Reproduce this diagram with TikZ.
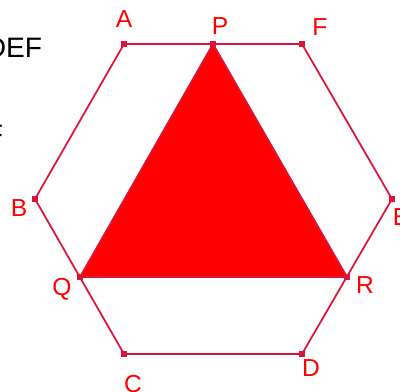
\documentclass[tikz,border=0pt]{standalone}
\usepackage{fontspec}
\setmainfont{Liberation Sans}
\definecolor{hexline}{RGB}{220,20,60}
\definecolor{ptred}{RGB}{255,0,0}
\begin{document}
\begin{tikzpicture}[x=0.02cm, y=-0.02cm, line width=1pt,
  lbl/.style={text=ptred, font=\fontsize{14}{17}\selectfont, inner sep=0pt},
  big/.style={text=black, font=\fontsize{16}{19}\selectfont, inner sep=0pt}]
\useasboundingbox (0,0) rectangle (400,392);

% Hexagon vertices
\coordinate (A) at (124,44);
\coordinate (F) at (302,44);
\coordinate (E) at (392,199);
\coordinate (D) at (302,354);
\coordinate (C) at (124,354);
\coordinate (B) at (35,199);

% Triangle vertices
\coordinate (P) at (213,44);
\coordinate (Q) at (80,277);
\coordinate (R) at (347,277);

% Triangle
\filldraw[fill=ptred, draw=hexline] (P) -- (Q) -- (R) -- cycle;

% Hexagon
\draw[hexline] (A) -- (F) -- (E) -- (D) -- (C) -- (B) -- cycle;

% Points
\foreach \pt in {A,P,F,E,D,C,B,Q,R}
  \fill[hexline] (\pt) +(-3,-3) rectangle +(3,3);

% Labels
\node[lbl] (lA) at (124,19) {A};
\node[lbl] (lP) at (220,26) {P};
\node[lbl] (lF) at (320,27) {F};
\node[lbl] (lE) at (401,217) {E};
\node[lbl] (lD) at (311,368) {D};
\node[lbl] (lC) at (133,384) {C};
\node[lbl] (lB) at (19,208) {B};
\node[lbl] (lQ) at (62,289) {Q};
\node[lbl] (lR) at (365,285) {R};

% Text cut at the left edge
\node[big, anchor=base east] (tDEF) at (43,57) {DEF};
\node[big, anchor=base east] (tF) at (4,145) {F};
\end{tikzpicture}
\end{document}
